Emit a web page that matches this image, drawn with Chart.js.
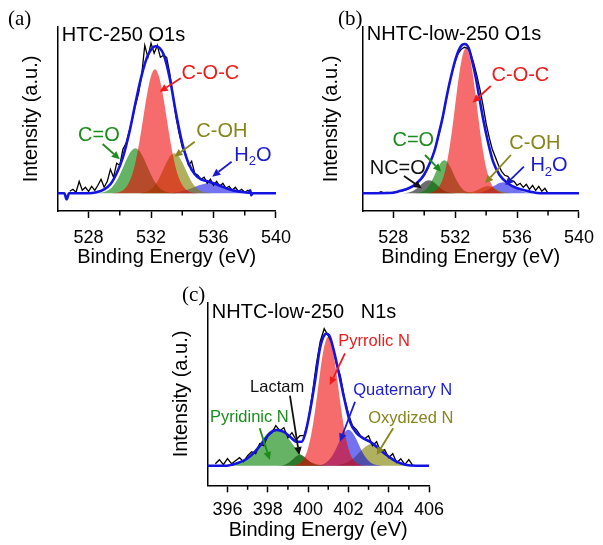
<!DOCTYPE html>
<html>
<head>
<meta charset="utf-8">
<script src="https://cdn.jsdelivr.net/npm/chart.js@4.4.1/dist/chart.umd.min.js"></script>
<style>
  html, body { margin: 0; padding: 0; background: #fff; }
  body { width: 603px; height: 545px; position: relative; overflow: hidden; }
  canvas { position: absolute; }
  #panelA { left: 0; top: 0; }
  #panelB { left: 300px; top: 0; }
  #panelC { left: 150px; top: 280px; }
</style>
</head>
<body>
<canvas id="panelA" width="300" height="275"></canvas>
<canvas id="panelB" width="303" height="275"></canvas>
<canvas id="panelC" width="303" height="265"></canvas>
<script>
// (a) HTC-250 O1s -- fitted components on a 0.25 eV grid
const aEnergy = [528, 528.25, 528.5, 528.75, 529, 529.25, 529.5, 529.75, 530, 530.25, 530.5, 530.75, 531, 531.25, 531.5, 531.75, 532, 532.25, 532.5, 532.75, 533, 533.25, 533.5, 533.75, 534, 534.25, 534.5, 534.75, 535, 535.25, 535.5, 535.75, 536, 536.25, 536.5, 536.75, 537, 537.25, 537.5, 537.75, 538];
const aCOC = [0, 0, 0, 0, 0, 0, 0.1, 0.5, 1.4, 3.6, 8.2, 16.7, 30.9, 51, 75.3, 99.3, 117.3, 124, 117.3, 99.3, 75.3, 51, 30.9, 16.7, 8.2, 3.6, 1.4, 0.5, 0.1, 0, 0, 0, 0, 0, 0, 0, 0, 0, 0, 0, 0];
const aCO = [0, 0, 0.2, 0.5, 1.3, 3.0, 6.1, 11.2, 18.5, 27.3, 36, 42.6, 45, 42.6, 36, 27.3, 18.5, 11.2, 6.1, 3.0, 1.3, 0.5, 0.2, 0, 0, 0, 0, 0, 0, 0, 0, 0, 0, 0, 0, 0, 0, 0, 0, 0, 0];
const aCOH = [0, 0, 0, 0, 0, 0, 0, 0, 0, 0, 0, 0, 0, 0, 0.7, 1.8, 4.0, 8.1, 14.4, 22.5, 31, 37.5, 40, 37.5, 31, 22.5, 14.4, 8.1, 4.0, 1.8, 0.7, 0.2, 0, 0, 0, 0, 0, 0, 0, 0, 0];
const aH2O = [0, 0, 0, 0, 0, 0, 0, 0, 0, 0, 0, 0, 0, 0, 0, 0, 0, 0, 0, 0, 0, 0, 0.8, 1.4, 2.2, 3.3, 4.6, 6.1, 7.6, 8.8, 9.7, 10, 9.7, 8.8, 7.6, 6.1, 4.6, 3.3, 2.2, 1.4, 0.8];
const aFitEnergy = [526, 526.45, 526.6, 526.75, 528, 528.5, 529, 529.4, 529.8, 530.2, 530.6, 531, 531.4, 531.8, 532.3, 532.8, 533.2, 533.6, 534, 534.4, 534.8, 535.2, 535.6, 536, 536.5, 537, 537.5, 538, 538.3, 538.35, 538.42, 538.5, 540];
const aFit = [0, 0, -6, 0, 0, 1, 4, 9, 20, 36, 60, 90, 118, 138, 147, 139, 115, 80, 50, 30, 19, 14, 12, 10, 7, 4, 2, 1, 0.5, 3, -2, 0, 0];
const aRawEnergy = [526.8, 527, 527.2, 527.4, 527.6, 527.8, 528, 528.2, 528.4, 528.6, 528.8, 529, 529.2, 529.4, 529.6, 529.8, 530, 530.2, 530.4, 530.6, 530.8, 531, 531.2, 531.4, 531.6, 531.8, 532, 532.2, 532.4, 532.6, 532.8, 533, 533.2, 533.4, 533.6, 533.8, 534, 534.2, 534.4, 534.6, 534.8, 535, 535.2, 535.4, 535.6, 535.8, 536, 536.2, 536.4, 536.6, 536.8, 537, 537.2, 537.4, 537.6, 537.8, 538, 538.2, 538.4];
const aRaw = [2, 4, 1, 12, 3, 6, 2, 7, 3, 8, 14, 6, 12, 24, 16, 30, 28, 44, 50, 62, 74, 88, 100, 118, 148, 136, 150, 140, 148, 136, 138, 136, 120, 98, 76, 60, 46, 40, 28, 32, 20, 18, 14, 16, 10, 14, 8, 12, 7, 10, 5, 7, 3, 6, 2, 4, 1, 3, 0];

// (b) NHTC-low-250 O1s -- fitted components on a 0.2 eV grid
const bEnergy = [528.7, 528.9, 529.1, 529.3, 529.5, 529.7, 529.9, 530.1, 530.3, 530.5, 530.7, 530.9, 531.1, 531.3, 531.5, 531.7, 531.9, 532.1, 532.3, 532.5, 532.7, 532.9, 533.1, 533.3, 533.5, 533.7, 533.9, 534.1, 534.3, 534.5, 534.7, 534.9, 535.1, 535.3, 535.5, 535.7, 535.9, 536.1, 536.3, 536.5, 536.7, 536.9, 537.1];
const bCOC = [0, 0, 0, 0, 0, 0, 0, 0.1, 0.4, 1.0, 2.5, 5.4, 10.6, 19.6, 33.4, 52.2, 75.4, 100.5, 123.1, 139.2, 145, 139.2, 123.1, 100.5, 75.4, 52.2, 33.4, 19.6, 10.6, 5.4, 2.5, 1.0, 0.4, 0.1, 0, 0, 0, 0, 0, 0, 0, 0, 0];
const bCO = [0, 0, 0, 0, 0.3, 0.7, 1.8, 3.9, 7.5, 12.7, 19.3, 26, 31.1, 33, 31.1, 26, 19.3, 12.7, 7.5, 3.9, 1.8, 0.7, 0.3, 0, 0, 0, 0, 0, 0, 0, 0, 0, 0, 0, 0, 0, 0, 0, 0, 0, 0, 0, 0];
const bNCO = [0.2, 0.5, 1.2, 2.5, 4.5, 7.2, 10, 12.2, 13, 12.2, 10, 7.2, 4.5, 2.5, 1.2, 0.5, 0.2, 0, 0, 0, 0, 0, 0, 0, 0, 0, 0, 0, 0, 0, 0, 0, 0, 0, 0, 0, 0, 0, 0, 0, 0, 0, 0];
const bCOH = [0, 0, 0, 0, 0, 0, 0, 0, 0, 0, 0, 0, 0, 0, 0, 0, 0, 0, 0, 0, 0.3, 0.7, 1.3, 2.4, 3.9, 5.4, 6.6, 7, 6.6, 5.4, 3.9, 2.4, 1.3, 0.7, 0.3, 0, 0, 0, 0, 0, 0, 0, 0];
const bH2O = [0, 0, 0, 0, 0, 0, 0, 0, 0, 0, 0, 0, 0, 0, 0, 0, 0, 0, 0, 0, 0, 0, 0, 0.2, 0.5, 1.1, 2.0, 3.4, 5.2, 7.2, 9.1, 10.5, 11, 10.5, 9.1, 7.2, 5.2, 3.4, 2.0, 1.1, 0.5, 0.2, 0];
const bFitEnergy = [526, 528, 528.27, 529, 529.52, 529.98, 530.36, 530.68, 530.95, 531.2, 531.45, 531.73, 532.04, 532.35, 532.62, 532.88, 533.13, 533.34, 533.55, 533.82, 534.14, 534.45, 534.87, 535.39, 536.02, 536.86, 537.5, 540];
const bFit = [0, 0.5, 1.6, 5, 10, 18.3, 30, 43.3, 60, 76.6, 96.6, 116.6, 135, 146.6, 149.3, 145, 130, 115, 96.6, 73.3, 50, 31.6, 18.3, 10, 5, 1.6, 0, 0];
const bRawEnergy = [526.8, 527, 527.2, 527.4, 527.6, 527.8, 528, 528.2, 528.4, 528.6, 528.8, 529, 529.2, 529.4, 529.6, 529.8, 530, 530.2, 530.4, 530.6, 530.8, 531, 531.2, 531.4, 531.6, 531.8, 532, 532.2, 532.4, 532.6, 532.8, 533, 533.2, 533.4, 533.6, 533.8, 534, 534.2, 534.4, 534.6, 534.8, 535, 535.2, 535.4, 535.6, 535.8, 536, 536.2, 536.4, 536.6, 536.8, 537, 537.2, 537.4, 537.6, 537.8, 538];
const bRaw = [1, 0, 1.5, 0.5, 1, 0.5, 1, 1.5, 2, 2.5, 3.5, 5, 6.5, 8, 11, 14, 18, 24, 31, 40, 50, 62, 76, 92, 108, 121, 132, 140, 144, 146, 145, 140, 130, 118, 104, 88, 70, 56, 44, 36, 28, 22, 18, 17, 13, 12, 8, 10, 6, 9, 4, 8, 3, 7, 2, 5, 0];

// (c) NHTC-low-250 N1s -- fitted components on a 0.2 eV grid
const cEnergy = [396, 396.2, 396.4, 396.6, 396.8, 397, 397.2, 397.4, 397.6, 397.8, 398, 398.2, 398.4, 398.6, 398.8, 399, 399.2, 399.4, 399.6, 399.8, 400, 400.2, 400.4, 400.6, 400.8, 401, 401.2, 401.4, 401.6, 401.8, 402, 402.2, 402.4, 402.6, 402.8, 403, 403.2, 403.4, 403.6, 403.8, 404, 404.2, 404.4, 404.6, 404.8, 405, 405.2];
const cPyridinic = [0.4, 0.8, 1.6, 2.9, 5, 8, 12, 16.9, 22.4, 27.9, 32.6, 35.9, 37, 35.9, 32.6, 27.9, 22.4, 16.9, 12, 8, 5, 2.9, 1.6, 0.8, 0.4, 0.2, 0, 0, 0, 0, 0, 0, 0, 0, 0, 0, 0, 0, 0, 0, 0, 0, 0, 0, 0, 0, 0];
const cLactam = [0, 0, 0, 0, 0, 0, 0, 0, 0, 0, 0, 0, 0, 0.2, 0.8, 2.5, 5.7, 9.3, 11, 9.3, 5.7, 2.5, 0.8, 0.2, 0, 0, 0, 0, 0, 0, 0, 0, 0, 0, 0, 0, 0, 0, 0, 0, 0, 0, 0, 0, 0, 0, 0];
const cPyrrolic = [0, 0, 0, 0, 0, 0, 0, 0, 0, 0, 0, 0, 0, 0, 0, 0, 0.2, 0.8, 2.6, 7.3, 17.5, 35.9, 62.8, 93.7, 119.1, 129, 119.1, 93.7, 62.8, 35.9, 17.5, 7.3, 2.6, 0.8, 0.2, 0, 0, 0, 0, 0, 0, 0, 0, 0, 0, 0, 0];
const cQuaternary = [0, 0, 0, 0, 0, 0, 0, 0, 0, 0, 0, 0, 0, 0, 0, 0, 0, 0, 0, 0, 0, 0, 0.2, 0.7, 2.0, 4.9, 10, 17.5, 26.1, 33.2, 36, 33.2, 26.1, 17.5, 10, 4.9, 2.0, 0.7, 0.2, 0, 0, 0, 0, 0, 0, 0, 0];
const cOxidized = [0, 0, 0, 0, 0, 0, 0, 0, 0, 0, 0, 0, 0, 0, 0, 0, 0, 0, 0, 0, 0, 0, 0, 0, 0, 0, 0.2, 0.4, 1.1, 2.2, 4.0, 6.7, 10.3, 14.4, 18.2, 21, 22, 21, 18.2, 14.4, 10.3, 6.7, 4.0, 2.2, 1.1, 0.4, 0.2];
const cFitEnergy = [395, 395.96, 396.46, 396.95, 397.37, 397.78, 398.11, 398.44, 398.77, 399.1, 399.44, 399.68, 399.84, 400.09, 400.34, 400.59, 400.84, 400.92, 401.08, 401.33, 401.58, 401.83, 402.08, 402.41, 402.74, 403.07, 403.4, 403.89, 404.39, 404.88, 405.38, 406];
const cFit = [0, 0, 2.4, 6.7, 14, 24, 32.4, 35.7, 34, 29, 24, 24, 30.7, 54, 84, 117.4, 131.4, 132, 129, 110.7, 87.4, 64, 44, 32.4, 27.4, 24, 19, 10.7, 4, 0.7, 0, 0];
const cRawEnergy = [395.4, 395.6, 395.8, 396, 396.2, 396.4, 396.6, 396.8, 397, 397.2, 397.4, 397.6, 397.8, 398, 398.2, 398.4, 398.6, 398.8, 399, 399.2, 399.4, 399.6, 399.8, 400, 400.2, 400.4, 400.6, 400.8, 401, 401.2, 401.4, 401.6, 401.8, 402, 402.2, 402.4, 402.6, 402.8, 403, 403.2, 403.4, 403.6, 403.8, 404, 404.2, 404.4, 404.6, 404.8, 405, 405.2];
const cRaw = [2, 6, 1, 7, 2, 5, 8, 4, 10, 14, 12, 22, 20, 30, 33, 40, 35, 38, 28, 33, 26, 30, 30, 44, 70, 100, 124, 137, 130, 122, 102, 90, 68, 52, 40, 36, 30, 27, 30, 20, 24, 14, 16, 8, 12, 3, 7, 1, 6, 0];

const FONT = '"Liberation Sans", Arial, Helvetica, sans-serif';
const SERIF = '"Liberation Serif", "Times New Roman", serif';

const RED = 'rgba(240, 0, 0, 0.58)';
const GREEN = 'rgba(0, 128, 0, 0.6)';
const OLIVE = 'rgba(128, 128, 0, 0.62)';
const BLUE = 'rgba(0, 0, 230, 0.55)';
const GRAY = 'rgba(20, 20, 20, 0.62)';
const ENVELOPE = '#1414e0';

const TXT_RED = '#ee1c1c';
const TXT_GREEN = '#1c8c1c';
const TXT_OLIVE = '#86861c';
const TXT_BLUE = '#1c1ccf';
const TXT_BLACK = '#111111';

Chart.defaults.font.family = FONT;
Chart.defaults.color = '#000';

function points(xs, ys) {
    return xs.map((x, i) => ({ x, y: ys[i] }));
}

function peak(label, xs, ys, color) {
    return {
        label,
        data: points(xs, ys),
        backgroundColor: color,
        borderColor: 'rgba(0,0,0,0)',
        borderWidth: 0,
        fill: 'origin',
        pointRadius: 0,
        cubicInterpolationMode: 'monotone',
        order: 3,
    };
}

function envelope(xs, ys) {
    return {
        label: 'Fit',
        data: points(xs, ys),
        borderColor: ENVELOPE,
        borderWidth: 2.6,
        fill: false,
        pointRadius: 0,
        cubicInterpolationMode: 'monotone',
        order: 1,
    };
}

function raw(xs, ys) {
    return {
        label: 'Raw',
        data: points(xs, ys),
        borderColor: '#000',
        borderWidth: 1.3,
        fill: false,
        pointRadius: 0,
        tension: 0,
        order: 2,
    };
}

function drawArrow(ctx, x1, y1, x2, y2, color) {
    const ang = Math.atan2(y2 - y1, x2 - x1);
    const head = 8;
    const half = 3.8;
    const bx = x2 - head * Math.cos(ang);
    const by = y2 - head * Math.sin(ang);

    ctx.strokeStyle = color;
    ctx.fillStyle = color;
    ctx.lineWidth = 1.8;
    ctx.beginPath();
    ctx.moveTo(x1, y1);
    ctx.lineTo(bx, by);
    ctx.stroke();
    ctx.beginPath();
    ctx.moveTo(x2, y2);
    ctx.lineTo(bx + half * Math.sin(ang), by - half * Math.cos(ang));
    ctx.lineTo(bx - half * Math.sin(ang), by + half * Math.cos(ang));
    ctx.closePath();
    ctx.fill();
}

// "H_2O" -> H, subscript 2, O
function drawLabel(ctx, text, px, py, color, size) {
    ctx.fillStyle = color;
    ctx.textBaseline = 'middle';
    ctx.textAlign = 'left';
    let cx = px;
    text.split(/(_\d)/).forEach((part) => {
        if (!part) {
            return;
        }
        if (part[0] === '_') {
            const sub = part.slice(1);
            ctx.font = `${Math.round(size * 0.65)}px ${FONT}`;
            ctx.fillText(sub, cx, py + size * 0.32);
            cx += ctx.measureText(sub).width;
            return;
        }
        ctx.font = `${size}px ${FONT}`;
        ctx.fillText(part, cx, py);
        cx += ctx.measureText(part).width;
    });
}

function decor(panel) {
    return {
        id: 'decor',
        afterDraw(chart) {
            const { ctx, chartArea } = chart;
            const x = chart.scales.x;
            const y = chart.scales.y;
            ctx.save();

            // short minor ticks
            ctx.strokeStyle = '#000';
            ctx.lineWidth = 1.5;
            x.ticks.forEach((t) => {
                if (t.value <= x.min || panel.isMajor(t.value)) {
                    return;
                }
                const px = x.getPixelForValue(t.value);
                ctx.beginPath();
                ctx.moveTo(px, chartArea.bottom);
                ctx.lineTo(px, chartArea.bottom + 4.5);
                ctx.stroke();
            });

            ctx.fillStyle = '#000';
            ctx.textAlign = 'left';
            ctx.textBaseline = 'alphabetic';
            ctx.font = `21px ${SERIF}`;
            ctx.fillText(panel.letter, panel.letterPos[0], panel.letterPos[1]);
            ctx.font = `20px ${FONT}`;
            ctx.fillText(panel.title, chartArea.left + 4.5, chartArea.top + panel.titleDrop);

            panel.arrows.forEach((a) => {
                drawArrow(ctx,
                    x.getPixelForValue(a.from[0]), y.getPixelForValue(a.from[1]),
                    x.getPixelForValue(a.to[0]), y.getPixelForValue(a.to[1]),
                    a.color);
            });
            panel.labels.forEach((l) => {
                drawLabel(ctx, l.text, x.getPixelForValue(l.at[0]), y.getPixelForValue(l.at[1]), l.color, panel.labelSize);
            });

            ctx.restore();
        },
    };
}

function makeChart(id, panel) {
    const canvas = document.getElementById(id);
    return new Chart(canvas, {
        type: 'line',
        data: { datasets: panel.datasets },
        options: {
            responsive: false,
            animation: false,
            devicePixelRatio: 1,
            layout: { padding: { top: panel.padTop, right: panel.padRight, left: 0, bottom: 0 } },
            plugins: {
                legend: { display: false },
                tooltip: { enabled: false },
            },
            scales: {
                x: {
                    type: 'linear',
                    min: panel.xMin,
                    max: panel.xMax,
                    afterFit(scale) {
                        scale.height = panel.xAxisHeight;
                    },
                    border: { display: true, color: '#000', width: 1.5 },
                    grid: {
                        display: true,
                        drawOnChartArea: false,
                        drawTicks: true,
                        tickLength: 7,
                        tickWidth: 1.5,
                        tickColor: (c) => (c.tick && panel.isMajor(c.tick.value) ? '#000' : 'rgba(0,0,0,0)'),
                    },
                    ticks: {
                        stepSize: panel.minorStep,
                        autoSkip: false,
                        maxRotation: 0,
                        padding: panel.tickPadding,
                        color: '#000',
                        font: { size: 18 },
                        callback: (v) => (panel.isMajor(v) ? String(v) : ''),
                    },
                    title: {
                        display: true,
                        text: 'Binding Energy (eV)',
                        color: '#000',
                        font: { size: 20 },
                        padding: { top: 0, bottom: panel.xTitlePad },
                    },
                },
                y: {
                    min: panel.yMin,
                    max: panel.yMax,
                    afterFit(scale) {
                        scale.width = panel.yAxisWidth;
                    },
                    border: { display: true, color: '#000', width: 1.5 },
                    grid: { display: false },
                    ticks: { display: false },
                    title: {
                        display: true,
                        text: 'Intensity (a.u.)',
                        color: '#000',
                        font: { size: 20 },
                        padding: { top: 19, bottom: 0 },
                    },
                },
            },
        },
        plugins: [decor(panel)],
    });
}

makeChart('panelA', {
    letter: '(a)',
    letterPos: [8, 25],
    title: 'HTC-250 O1s',
    titleDrop: 13.5,
    xMin: 526, xMax: 540, minorStep: 2,
    isMajor: (v) => Math.abs(v % 4) < 1e-6,
    yMin: -17.7, yMax: 166.3,
    padTop: 27, padRight: 21,
    yAxisWidth: 57.3, xAxisHeight: 64,
    tickPadding: 9, xTitlePad: 6,
    labelSize: 20,
    datasets: [
        envelope(aFitEnergy, aFit),
        raw(aRawEnergy, aRaw),
        peak('C-O-C', aEnergy, aCOC, RED),
        peak('C=O', aEnergy, aCO, GREEN),
        peak('C-OH', aEnergy, aCOH, OLIVE),
        peak('H2O', aEnergy, aH2O, BLUE),
    ],
    labels: [
        { text: 'C-O-C', at: [533.95, 120.3], color: TXT_RED },
        { text: 'C=O', at: [527.33, 58.3], color: TXT_GREEN },
        { text: 'C-OH', at: [534.9, 61.6], color: TXT_OLIVE },
        { text: 'H_2O', at: [537.33, 38.3], color: TXT_BLUE },
    ],
    arrows: [
        { from: [533.9, 115], to: [532.55, 101.5], color: TXT_RED },
        { from: [528.9, 49.3], to: [530.0, 34], color: TXT_GREEN },
        { from: [534.8, 51.6], to: [533.5, 36.6], color: TXT_OLIVE },
        { from: [537.16, 31.6], to: [535.92, 16.6], color: TXT_BLUE },
    ],
});

makeChart('panelB', {
    letter: '(b)',
    letterPos: [38, 25],
    title: 'NHTC-low-250 O1s',
    titleDrop: 13,
    xMin: 526, xMax: 540, minorStep: 2,
    isMajor: (v) => Math.abs(v % 4) < 1e-6,
    yMin: -17.7, yMax: 166.3,
    padTop: 27, padRight: 18,
    yAxisWidth: 62.3, xAxisHeight: 64,
    tickPadding: 9, xTitlePad: 6,
    labelSize: 20,
    datasets: [
        envelope(bFitEnergy, bFit),
        raw(bRawEnergy, bRaw),
        peak('C-O-C', bEnergy, bCOC, RED),
        peak('C=O', bEnergy, bCO, GREEN),
        peak('NC=O', bEnergy, bNCO, GRAY),
        peak('C-OH', bEnergy, bCOH, OLIVE),
        peak('H2O', bEnergy, bH2O, BLUE),
    ],
    labels: [
        { text: 'C-O-C', at: [534.35, 117.6], color: TXT_RED },
        { text: 'C=O', at: [527.95, 52.5], color: TXT_GREEN },
        { text: 'NC=O', at: [526.48, 25], color: TXT_BLACK },
        { text: 'C-OH', at: [535.5, 50], color: TXT_OLIVE },
        { text: 'H_2O', at: [536.86, 27.6], color: TXT_BLUE },
    ],
    arrows: [
        { from: [534.3, 107.3], to: [533.13, 90.6], color: TXT_RED },
        { from: [530.05, 38.3], to: [531.1, 21.6], color: TXT_GREEN },
        { from: [528.69, 17.3], to: [529.84, 5], color: TXT_BLACK },
        { from: [535.6, 38.3], to: [533.93, 10], color: TXT_OLIVE },
        { from: [536.44, 26.6], to: [535.23, 8.3], color: TXT_BLUE },
    ],
});

makeChart('panelC', {
    letter: '(c)',
    letterPos: [32, 21],
    title: 'NHTC-low-250   N1s',
    titleDrop: 15.6,
    xMin: 395, xMax: 406, minorStep: 1,
    isMajor: (v) => Math.abs(v % 2) < 1e-6,
    yMin: -19.6, yMax: 163,
    padTop: 22.7, padRight: 24,
    yAxisWidth: 57.3, xAxisHeight: 59.7,
    tickPadding: 7, xTitlePad: 3,
    labelSize: 16.5,
    datasets: [
        envelope(cFitEnergy, cFit),
        raw(cRawEnergy, cRaw),
        peak('Pyrrolic N', cEnergy, cPyrrolic, RED),
        peak('Pyridinic N', cEnergy, cPyridinic, GREEN),
        peak('Lactam', cEnergy, cLactam, GRAY),
        peak('Quaternary N', cEnergy, cQuaternary, BLUE),
        peak('Oxydized N', cEnergy, cOxidized, OLIVE),
    ],
    labels: [
        { text: 'Pyrrolic N', at: [401.5, 124], color: TXT_RED },
        { text: 'Lactam', at: [397.12, 78], color: TXT_BLACK },
        { text: 'Pyridinic N', at: [395.13, 48.4], color: TXT_GREEN },
        { text: 'Quaternary N', at: [402.24, 75], color: TXT_BLUE },
        { text: 'Oxydized N', at: [402.98, 47.4], color: TXT_OLIVE },
    ],
    arrows: [
        { from: [401.83, 112.4], to: [401.08, 80.7], color: TXT_RED },
        { from: [399.1, 70], to: [399.56, 10.7], color: TXT_BLACK },
        { from: [397.6, 37.4], to: [398.1, 5.7], color: TXT_GREEN },
        { from: [402.33, 64], to: [401.58, 24], color: TXT_BLUE },
        { from: [404.22, 37.4], to: [403.4, 10.7], color: TXT_OLIVE },
    ],
});
</script>
</body>
</html>
